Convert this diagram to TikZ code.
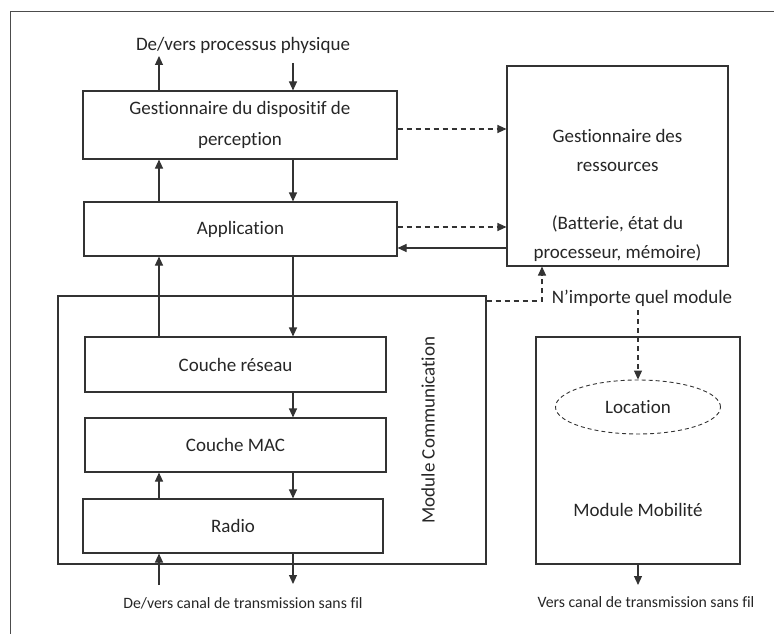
\documentclass[tikz,border=0pt]{standalone}
\usepackage{fontspec}
\setmainfont{Carlito}[Ligatures=NoCommon]
\usetikzlibrary{arrows.meta,shapes.geometric}

\begin{document}
\begin{tikzpicture}[x=1pt, y=-1pt,
  box/.style={draw=black!80, line width=1.1pt, rectangle, inner sep=0pt, text=black!85, font=\fontsize{19}{31}\selectfont},
  lbl/.style={inner sep=0pt, text=black!85, font=\fontsize{19}{29}\selectfont},
  small/.style={inner sep=0pt, text=black!85, font=\fontsize{15.8}{18}\selectfont},
  arr/.style={draw=black!80, line width=1.1pt, -{Triangle[length=9pt,width=8pt]}},
  darr/.style={arr, dash pattern=on 5pt off 4pt}]
\useasboundingbox (0,0) rectangle (774,634);
\draw[black!70, line width=1pt] (10,634) -- (10,12) -- (774,12);
% boxes
\node[box, minimum width=314pt, minimum height=68pt, align=center] (gest) at (240,125) {Gestionnaire du dispositif de\\perception};
\node[box, minimum width=313pt, minimum height=54pt] (app) at (240.5,229) {Application};
\node[box, minimum width=428pt, minimum height=268pt] (comm) at (272,430) {};
\node[box, minimum width=301pt, minimum height=55pt] (reseau) at (235.5,364.5) {Couche réseau};
\node[box, minimum width=301pt, minimum height=54pt] (mac) at (235.5,445) {Couche MAC};
\node[box, minimum width=300pt, minimum height=54pt] (radio) at (233,526) {Radio};
\node[box, minimum width=221pt, minimum height=200pt] (resrc) at (617.5,166) {};
\node[box, minimum width=204pt, minimum height=227pt] (mob) at (638,450.5) {};
\node[box, ellipse, dash pattern=on 4pt off 3pt, line width=0.9pt, minimum width=165pt, minimum height=54pt] (loc) at (638,407) {Location};
% texts
\node[lbl, align=center] (restxt) at (617.5,195) {Gestionnaire des\\ressources\\[29pt](Batterie, état du\\processeur, mémoire)};
\node[lbl, rotate=90] (commtxt) at (428,430) {Module Communication};
\node[lbl] (mobtxt) at (638,510) {Module Mobilité};
\node[lbl] (phys) at (243,45) {De/vers processus physique};
\node[lbl] (any) at (642,298) {N’importe quel module};
\node[small] (canal) at (243,603) {De/vers canal de transmission sans fil};
\node[small] (vers) at (646,602) {Vers canal de transmission sans fil};
% columns and free ends
\coordinate (lx) at (159,0);
\coordinate (rx) at (293,0);
\coordinate (topL) at (159,56);
\coordinate (topR) at (293,63);
\coordinate (botL) at (159,585);
\coordinate (botR) at (293,584);
\coordinate (d1) at (0,129);
\coordinate (d2) at (0,227);
\coordinate (d3) at (0,248);
\coordinate (d4) at (542,301);
\coordinate (d5) at (638,310);
\coordinate (mobout) at (638,585);
% arrows
\draw[arr] (gest.north -| lx) -- (topL);
\draw[arr] (topR) -- (gest.north -| rx);
\draw[arr] (app.north -| lx) -- (gest.south -| lx);
\draw[arr] (gest.south -| rx) -- (app.north -| rx);
\draw[arr] (reseau.north -| lx) -- (app.south -| lx);
\draw[arr] (app.south -| rx) -- (reseau.north -| rx);
\draw[arr] (reseau.south -| rx) -- (mac.north -| rx);
\draw[arr] (mac.south -| rx) -- (radio.north -| rx);
\draw[arr] (radio.north -| lx) -- (mac.south -| lx);
\draw[arr] (botL) -- (radio.south -| lx);
\draw[arr] (radio.south -| rx) -- (botR);
\draw[darr] (gest.east |- d1) -- (resrc.west |- d1);
\draw[darr] (app.east |- d2) -- (resrc.west |- d2);
\draw[arr] (resrc.west |- d3) -- (app.east |- d3);
\draw[darr] (comm.east |- d4) -- (d4) -- (resrc.south -| d4);
\draw[darr] (d5) -- (loc.north);
\draw[arr] (mob.south) -- (mobout);
\end{tikzpicture}
\end{document}
